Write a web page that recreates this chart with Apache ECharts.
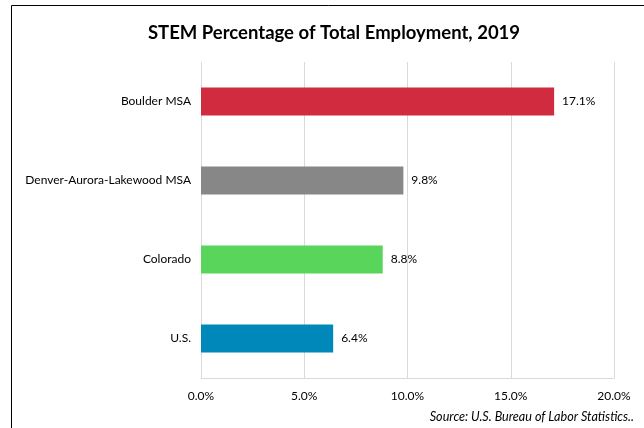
<!DOCTYPE html>
<html><head><meta charset="utf-8">
<script src="https://cdn.jsdelivr.net/npm/echarts@6/dist/echarts.min.js"></script>
<style>html,body{margin:0;padding:0;background:#fff}#c{width:644px;height:428px}</style>
</head><body><div id="c"></div>
<script>
var categories = ['U.S.', 'Colorado', 'Denver-Aurora-Lakewood MSA', 'Boulder MSA'];
var values = [6.4, 8.8, 9.8, 17.1];
var barColors = ['#0088BA', '#58D55A', '#878787', '#D02B3F'];
var xTicks = [0, 5, 10, 15, 20];
var font = 'Lato, "Open Sans", sans-serif';
var chart = echarts.init(document.getElementById('c'));
chart.setOption({
  animation: false,
  title: {text: 'STEM Percentage of Total Employment, 2019', left: 329, textAlign: 'center', top: 19,
    textStyle: {fontFamily: font, fontSize: 18.5, fontWeight: 'bold', color: '#000'}},
  graphic: [
    {type: 'rect', shape: {x: 11.5, y: 5.5, width: 700, height: 500}, style: {fill: 'none', stroke: '#000', lineWidth: 1}},
    {type: 'text', right: 10, top: 410, style: {text: 'Source: U.S. Bureau of Labor Statistics..', font: 'italic 12.6px ' + font, fill: '#000'}}
  ],
  grid: {left: 201, right: 30, top: 62, bottom: 50},
  xAxis: {type: 'value', min: 0, max: 20, interval: 5,
    axisLine: {show: true, lineStyle: {color: '#D9D9D9'}}, axisTick: {show: false},
    splitLine: {show: true, lineStyle: {color: '#D9D9D9'}},
    axisLabel: {margin: 12, fontFamily: font, fontSize: 12, color: '#000', formatter: function(v){return v.toFixed(1)+'%';}}},
  yAxis: {type: 'category', data: categories, axisLine: {show: false}, axisTick: {show: false},
    axisLabel: {margin: 10, fontFamily: font, fontSize: 12, color: '#000'}},
  series: [{type: 'bar', barWidth: 28,
    data: values.map(function(v, i){return {value: v, itemStyle: {color: barColors[i]}};}),
    label: {show: true, position: 'right', distance: 8, fontFamily: font, fontSize: 12, color: '#000',
      formatter: function(p){return p.value.toFixed(1)+'%';}}}]
});
</script></body></html>
